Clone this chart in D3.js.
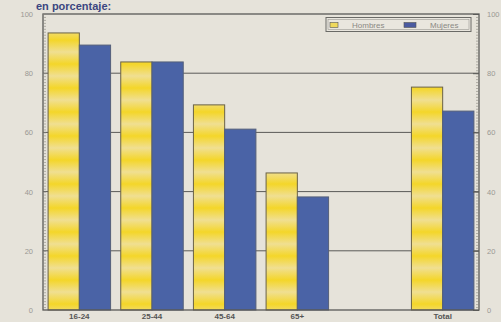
<!DOCTYPE html>
<html><head><meta charset="utf-8">
<script src="https://cdn.jsdelivr.net/npm/d3@7"></script>
<style>html,body{margin:0;padding:0;background:#e6e3da;}svg{display:block;}</style>
</head><body>
<script>
const categories = ["16-24", "25-44", "45-64", "65+", "", "Total"];
const series = ["Hombres", "Mujeres"];
const hombres = [93.6, 83.8, 69.3, 46.3, null, 75.3];
const mujeres = [89.5, 83.8, 61.1, 38.2, null, 67.2];
const yTicks = [0, 20, 40, 60, 80, 100];
const title = "en porcentaje:";

const W = 501, H = 322;
const m = {left: 43, right: 22, top: 14, bottom: 12};
const svg = d3.select("body").append("svg").attr("width", W).attr("height", H);
svg.append("rect").attr("width", W).attr("height", H).attr("fill", "#e6e3da");

const defs = svg.append("defs");
const grad = defs.append("linearGradient").attr("id", "yg").attr("x1", 0).attr("y1", 0).attr("x2", 0).attr("y2", 1);
grad.append("stop").attr("offset", "0%").attr("stop-color", "#f0df92");
grad.append("stop").attr("offset", "50%").attr("stop-color", "#f4d629");
grad.append("stop").attr("offset", "100%").attr("stop-color", "#f0df92");
const pat = defs.append("pattern").attr("id", "yp").attr("patternUnits", "userSpaceOnUse")
  .attr("x", 0).attr("y", 4).attr("width", 10).attr("height", 24);
pat.append("rect").attr("width", 10).attr("height", 24).attr("fill", "url(#yg)");

const x0 = d3.scaleBand().domain(categories).range([m.left, W - m.right]).paddingInner(0.14).paddingOuter(0.07);
const x1 = d3.scaleBand().domain(series).range([0, x0.bandwidth()]);
const y = d3.scaleLinear().domain([0, 100]).range([H - m.bottom, m.top]);

// title
svg.append("text").attr("x", 36).attr("y", 9.5).attr("font-family", "Liberation Sans, Arial, sans-serif")
  .attr("font-size", 11).attr("font-weight", "bold").attr("fill", "#3b4680").text(title);

// gridlines
svg.append("g").selectAll("line").data(yTicks.filter(d => d > 0 && d < 100)).join("line")
  .attr("x1", m.left).attr("x2", W - m.right).attr("y1", d => y(d)).attr("y2", d => y(d))
  .attr("stroke", "#5a5a58").attr("stroke-width", 1);

// bars
const data = categories.map((c, i) => ({c, vals: [hombres[i], mujeres[i]]}));
const g = svg.append("g").selectAll("g").data(data).join("g").attr("transform", d => `translate(${x0(d.c)},0)`);
g.selectAll("rect").data(d => d.vals.map((v, j) => ({s: series[j], v})).filter(e => e.v != null)).join("rect")
  .attr("x", e => x1(e.s)).attr("width", x1.bandwidth())
  .attr("y", e => y(e.v)).attr("height", e => y(0) - y(e.v))
  .attr("fill", e => e.s === "Hombres" ? "url(#yp)" : "#4a63a6")
  .attr("stroke", e => e.s === "Hombres" ? "#6a6246" : "#55607a").attr("stroke-width", 1);

// frame
svg.append("rect").attr("x", m.left).attr("y", m.top).attr("width", W - m.right - m.left).attr("height", y(0) - m.top)
  .attr("fill", "none").attr("stroke", "#5a5a58").attr("stroke-width", 1.3);

// axes with minor ticks
const minor = d3.range(0, 101, 1);
const axL = d3.axisRight(y).tickValues(minor).tickSize(3).tickFormat("");
const axR = d3.axisLeft(y).tickValues(minor).tickSize(3).tickFormat("");
const gl = svg.append("g").attr("transform", `translate(${m.left},0)`).call(axL);
const gr = svg.append("g").attr("transform", `translate(${W - m.right},0)`).call(axR);
[gl, gr].forEach(a => { a.select(".domain").remove(); a.selectAll("line").attr("stroke", "#8a8880").attr("stroke-width", 0.6); });
const majR = d3.axisLeft(y).tickValues(yTicks).tickSize(6).tickFormat("");
const gmr = svg.append("g").attr("transform", `translate(${W - m.right},0)`).call(majR);
gmr.select(".domain").remove(); gmr.selectAll("line").attr("stroke", "#5a5a58");

// tick labels
const lab = d3.axisLeft(y).tickValues(yTicks).tickSize(0).tickPadding(10);
const gla = svg.append("g").attr("transform", `translate(${m.left},0)`).call(lab);
gla.select(".domain").remove();
gla.selectAll("text").attr("font-family", "Liberation Sans, Arial, sans-serif").attr("font-size", 7.5).attr("fill", "#9a9893");
const labR = d3.axisRight(y).tickValues(yTicks).tickSize(0).tickPadding(8);
const gra = svg.append("g").attr("transform", `translate(${W - m.right},0)`).call(labR);
gra.select(".domain").remove();
gra.selectAll("text").attr("font-family", "Liberation Sans, Arial, sans-serif").attr("font-size", 7.5).attr("fill", "#9a9893");

// x labels
const xa = d3.axisBottom(x0).tickSize(0).tickPadding(3);
const gxa = svg.append("g").attr("transform", `translate(0,${y(0)})`).call(xa);
gxa.select(".domain").remove();
gxa.selectAll("text").attr("font-family", "Liberation Sans, Arial, sans-serif").attr("font-size", 8).attr("font-weight", "bold").attr("fill", "#555");

// legend
const lg = svg.append("g");
lg.append("rect").attr("x", 326).attr("y", 17.5).attr("width", 145).attr("height", 14)
  .attr("fill", "#e9e6de").attr("stroke", "#6a6a66").attr("stroke-width", 1);
lg.append("rect").attr("x", 328).attr("y", 19.5).attr("width", 141).attr("height", 10)
  .attr("fill", "none").attr("stroke", "#9a9892").attr("stroke-width", 0.6);
const items = [{s: series[0], x: 330, tx: 352, fill: "#efd95c"}, {s: series[1], x: 404, tx: 430, fill: "#4a5aa0"}];
items.forEach(it => {
  lg.append("rect").attr("x", it.x).attr("y", 22.5).attr("width", it.s === "Hombres" ? 8 : 12).attr("height", 5)
    .attr("fill", it.fill).attr("stroke", "#555").attr("stroke-width", 0.6);
  lg.append("text").attr("x", it.tx).attr("y", 27.5).attr("font-family", "Liberation Sans, Arial, sans-serif")
    .attr("font-size", 8).attr("fill", "#8a8884").text(it.s);
});
</script>
</body></html>
